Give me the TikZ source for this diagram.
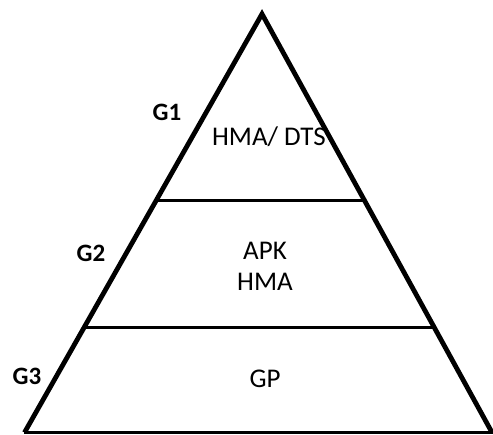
\documentclass[tikz,border=0pt]{standalone}
\usepackage{fontspec}
\setmainfont{Carlito}
\usetikzlibrary{calc}

\begin{document}
\begin{tikzpicture}
    [x=1pt,y=-1pt,
    side/.style={line width=4.8pt,line join=miter},
    base line/.style={line width=3.6pt},
    divider/.style={line width=3pt},
    level text/.style={anchor=base,font=\fontsize{27}{31}\selectfont,align=center},
    level label/.style={anchor=base,font=\fontsize{25}{30}\selectfont\bfseries}]
    \useasboundingbox (0,0) rectangle (493,435);
    % the three corners of the pyramid
    \coordinate (apex) at (262,14);
    \coordinate (bl) at (24.5,432.5);
    \coordinate (br) at (492,432.5);
    \draw [side] (bl) -- (apex) -- (br);
    \draw [base line] ([xshift=-1pt]bl) -- ([xshift=1pt]br);
    % the two dividers between the levels
    \coordinate (d1l) at ($(apex)!0.4456!(bl)$);
    \coordinate (d1r) at ($(apex)!0.4456!(br)$);
    \coordinate (d2l) at ($(apex)!0.7491!(bl)$);
    \coordinate (d2r) at ($(apex)!0.7491!(br)$);
    \draw [divider] (d1l) -- (d1r);
    \draw [divider] (d2l) -- (d2r);
    % texts of the levels
    \node [level text] (top) at (269,146) {HMA/ DTS};
    \node [level text] (mid) at (265,291) {APK\\HMA};
    \node [level text] (bottom) at (265,388) {GP};
    \node [level label] (g1) at (167,121) {G1};
    \node [level label] (g2) at (91,262) {G2};
    \node [level label] (g3) at (27,385) {G3};
\end{tikzpicture}
\end{document}
